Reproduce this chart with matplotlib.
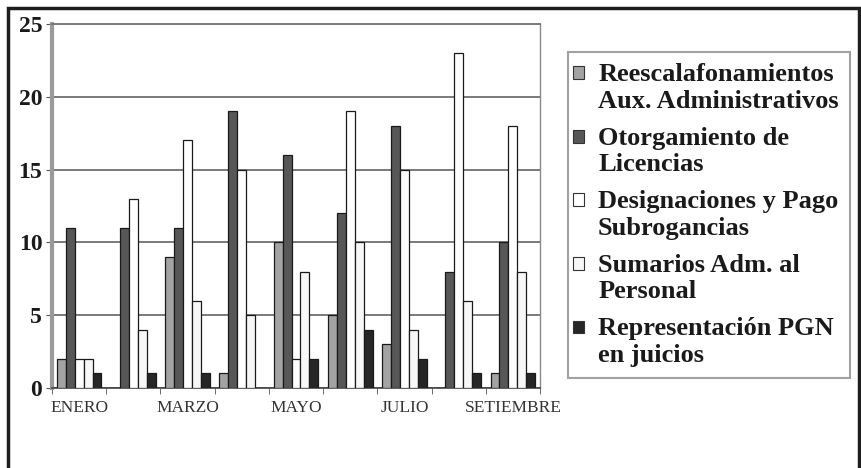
import matplotlib
matplotlib.use("Agg")
import matplotlib.pyplot as plt
import numpy as np
from matplotlib.patches import Rectangle, Patch
from matplotlib.legend_handler import HandlerPatch

months = ["ENERO", "FEBRERO", "MARZO", "ABRIL", "MAYO", "JUNIO", "JULIO", "AGOSTO", "SETIEMBRE"]
series_names = [
    "Reescalafonamientos\nAux. Administrativos",
    "Otorgamiento de\nLicencias",
    "Designaciones y Pago\nSubrogancias",
    "Sumarios Adm. al\nPersonal",
    "Representación PGN\nen juicios",
]
reescalafonamientos = [2, 0, 9, 1, 10, 5, 3, 0, 1]
otorgamiento = [11, 11, 11, 19, 16, 12, 18, 8, 10]
designaciones = [2, 13, 17, 15, 2, 19, 15, 23, 18]
sumarios = [2, 4, 6, 5, 8, 10, 4, 6, 8]
representacion = [1, 1, 1, 0, 2, 4, 2, 1, 1]
yticks = [0, 5, 10, 15, 20, 25]

series = [reescalafonamientos, otorgamiento, designaciones, sumarios, representacion]
colors = ["#a3a3a3", "#575757", "#ffffff", "#f7f7f7", "#262626"]

plt.rcParams['font.family'] = ['Liberation Serif', 'DejaVu Serif']

fig = plt.figure(figsize=(8.61, 4.68), dpi=100)
W, H = 861, 468
ax = fig.add_axes([52 / W, 1 - 388 / H, (540 - 52) / W, (388 - 24) / H])

x = np.arange(len(months))
bw = 0.165
for k, (vals, c) in enumerate(zip(series, colors)):
    offs = (k - 2) * bw
    ax.bar(x + offs, vals, width=bw, color=c, edgecolor="#1a1a1a", linewidth=0.9, zorder=3)

ax.set_xlim(-0.5, len(months) - 0.5)
ax.set_ylim(0, 25)
ax.set_yticks(yticks)
ax.set_yticklabels([str(v) for v in yticks], fontsize=17, fontweight="bold", color="#1a1a1a")
ax.yaxis.grid(True, color="#7a7a7a", linewidth=1.4, zorder=0)
ax.set_axisbelow(True)

ax.set_xticks(x[::2])
ax.set_xticklabels(months[::2], fontsize=12.5, color="#333333")
ax.tick_params(axis="x", which="major", length=0, pad=9)
ax.set_xticks(np.arange(-0.5, len(months), 1), minor=True)
ax.tick_params(axis="x", which="minor", length=4, color="#555555", direction="out")
ax.tick_params(axis="y", length=4, color="#555555", pad=3)

ax.spines["left"].set_color("#9a9a9a")
ax.spines["left"].set_linewidth(3)
ax.spines["bottom"].set_color("#444444")
ax.spines["bottom"].set_linewidth(1.2)
ax.spines["right"].set_color("#8a8a8a")
ax.spines["right"].set_linewidth(1)
ax.spines["top"].set_color("#7a7a7a")
ax.spines["top"].set_linewidth(1.4)


def top_square(legend, orig_handle, xdescent, ydescent, width, height, fontsize):
    dx = -4.5
    dy = 11.5
    return Rectangle((-xdescent + dx, -ydescent + dy), width * 0.85, height * 0.85)


handles = [Patch(facecolor=c, edgecolor="#333333", linewidth=0.8) for c in colors]
leg = fig.legend(handles, series_names, loc="upper left",
                 bbox_to_anchor=(568 / W, 1 - 52 / H), frameon=True,
                 prop={"family": ["Liberation Serif"], "weight": "bold", "size": 19},
                 handlelength=0.5, handleheight=0.5, handletextpad=0.22,
                 labelspacing=0.53, borderpad=0.42, borderaxespad=0, fancybox=False,
                 handler_map={Patch: HandlerPatch(patch_func=top_square)})
leg.get_frame().set_edgecolor("#8a8a8a")
leg.get_frame().set_linewidth(1.5)
for t in leg.get_texts():
    t.set_color("#1a1a1a")
    t.set_linespacing(1.2)

fig.patches.append(Rectangle((8 / W, -0.05), (859 - 8) / W, 1.05 - 8 / H,
                             transform=fig.transFigure, fill=False,
                             edgecolor="#1e1e1e", linewidth=2.5))

fig.savefig("out.png", dpi=100)
